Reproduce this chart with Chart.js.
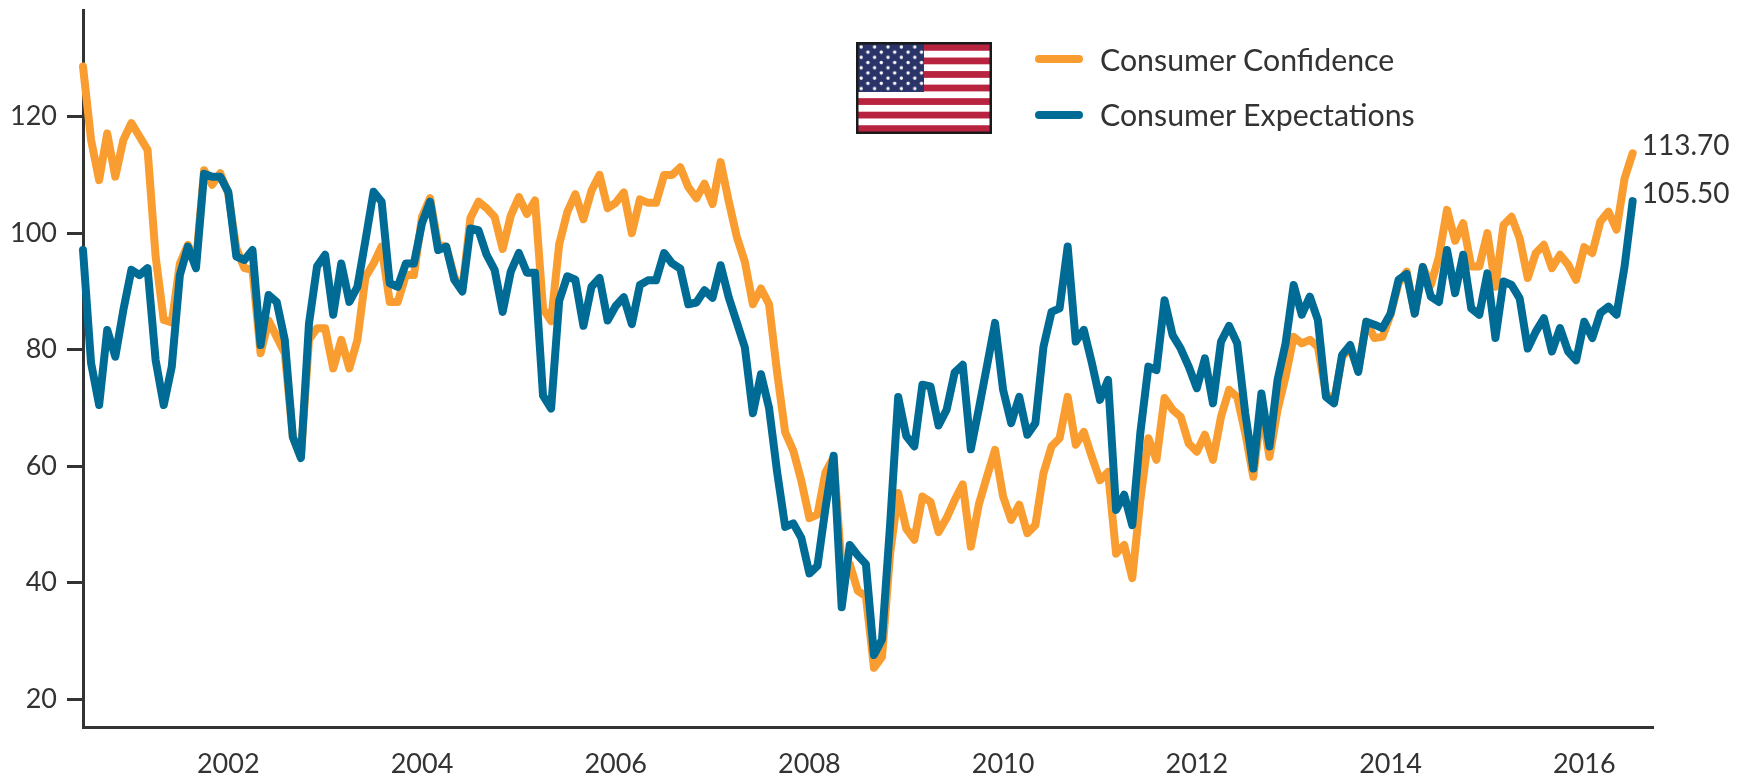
<!DOCTYPE html>
<html>
<head>
<meta charset="utf-8">
<title>Consumer Confidence</title>
<script src="https://cdn.jsdelivr.net/npm/chart.js@4"></script>
<style>
  html, body { margin: 0; padding: 0; background: #fff; }
  #wrap { position: relative; width: 1754px; height: 776px; overflow: hidden; font-family: Lato, sans-serif; color: #333; }
  #flag { position: absolute; left: 856px; top: 42px; }
  .key { position: absolute; left: 1035px; width: 48px; height: 8px; border-radius: 4px; }
  .keytext { position: absolute; left: 1100px; font-size: 30.3px; line-height: 36px; white-space: nowrap; }
</style>
</head>
<body>
<div id="wrap">
  <canvas id="myChart" width="1754" height="776"></canvas>
  <svg id="flag" width="136" height="92" viewBox="0 0 136 92">
    <defs>
      <pattern id="stars" width="13.4" height="10.4" patternUnits="userSpaceOnUse" x="3" y="3">
        <circle cx="2.2" cy="2" r="1.7" fill="#fff"/>
        <circle cx="8.9" cy="7.2" r="1.7" fill="#fff"/>
      </pattern>
    </defs>
    <rect width="136" height="92" fill="#fff"/>
    <g id="stripes" fill="#b8243f"></g>
    <rect x="2" y="2" width="66" height="48" fill="#2b3468"/>
    <rect x="2" y="2" width="66" height="48" fill="url(#stars)"/>
    <rect x="1.25" y="1.25" width="133.5" height="89.5" fill="none" stroke="#1a1a1a" stroke-width="2.5"/>
  </svg>
  <div class="key" style="top:55px;background:#f99d31"></div>
  <div class="keytext" style="top:41px">Consumer Confidence</div>
  <div class="key" style="top:111px;background:#006c96"></div>
  <div class="keytext" style="top:96px">Consumer Expectations</div>
</div>
<script>
// valeurs mensuelles, de juillet 2000 à juillet 2016
const consumerConfidence = [
  128.6, 116, 109.1, 117.1, 109.7, 116, 118.9, 116.6, 114.3, 96, 85.1, 84.7,
  94.8, 98, 95, 110.8, 108.3, 110.3, 106.8, 97.4, 94, 93.7, 79.4, 85,
  82.2, 79.4, 65, 61.6, 81.7, 83.7, 83.7, 76.8, 81.7, 76.8, 81.7, 92.5,
  94.8, 97.7, 88.2, 88.2, 92.8, 92.8, 102.8, 106, 98, 97.7, 92.5, 90.3,
  102.6, 105.4, 104.3, 102.8, 97.3, 103, 106.2, 103.3, 105.6, 87, 84.9, 98.1,
  103.6, 106.7, 102.4, 107.3, 110, 104.3, 105.2, 107, 100, 105.8, 105.2, 105.2,
  110, 110, 111.3, 107.9, 106, 108.5, 105, 112.2, 105.5, 99.4, 95.1, 87.8,
  90.5, 87.8, 76.1, 65.8, 62.7, 57.5, 51.1, 51.7, 59, 61.5, 42.5, 43.2,
  38.6, 37.7, 25.4, 27.3, 45, 55.4, 49.3, 47.4, 54.8, 53.9, 48.7, 51.1,
  54.2, 56.9, 46.2, 53.5, 58.2, 62.8, 54.8, 50.8, 53.4, 48.5, 49.9, 58.8,
  63.4, 64.8, 71.9, 63.7, 65.9, 61.6, 57.6, 59, 45, 46.5, 40.8, 54.2,
  64.8, 61.1, 71.7, 69.7, 68.5, 63.9, 62.5, 65.4, 61.1, 68.5, 73.1, 71.9,
  65.7, 58.2, 70, 61.6, 69.7, 75.4, 82.2, 81.1, 81.7, 80.5, 72.5, 71.1,
  78.8, 80.2, 76.5, 84.8, 82, 82.2, 86, 91.4, 93.4, 86.2, 94.2, 91.1,
  96, 104, 98.7, 101.7, 94.3, 94.3, 100, 90.8, 101.4, 102.8, 99.1, 92.3,
  96.6, 98, 94, 96.3, 94.6, 92, 97.6, 96.6, 102, 103.7, 100.6, 109.4,
  113.7
];
const consumerExpectations = [
  97.1, 77.7, 70.5, 83.4, 78.8, 86.8, 93.7, 92.8, 94, 78.2, 70.5, 77.1,
  92.8, 97.7, 94, 110.2, 109.7, 109.7, 107.1, 96, 95.4, 97.1, 80.8, 89.4,
  88.2, 81.7, 65, 61.4, 84.5, 94.3, 96.3, 86, 94.8, 88.2, 90.8, 98.8,
  107.1, 105.4, 91.4, 90.8, 94.8, 94.8, 101.7, 105.4, 97.1, 97.7, 92, 90,
  100.8, 100.5, 96.3, 93.7, 86.5, 93.4, 96.6, 93.2, 93.2, 72.1, 69.9, 88.4,
  92.6, 92, 84.1, 90.8, 92.3, 85, 87.5, 89, 84.4, 91.1, 91.9, 91.9,
  96.6, 94.8, 93.9, 87.8, 88.1, 90.2, 88.9, 94.5, 89, 84.7, 80.4, 69.1,
  75.8, 70, 59, 49.6, 50.2, 47.7, 41.6, 42.9, 52.9, 61.8, 35.8, 46.5,
  44.7, 43.2, 27.6, 30.3, 50, 71.9, 65.2, 63.4, 74, 73.7, 67, 69.7,
  76.1, 77.4, 62.9, 69.9, 77.2, 84.6, 73.1, 67.4, 71.9, 65.4, 67.4, 80.5,
  86.5, 87.1, 97.7, 81.4, 83.4, 77.7, 71.4, 74.8, 52.5, 55.1, 49.9, 65.7,
  77.1, 76.5, 88.5, 82.5, 80.2, 77.1, 73.4, 78.5, 70.8, 81.4, 84.1, 81.1,
  69.1, 59.6, 72.5, 63.4, 74.8, 81.1, 91.1, 86, 89.1, 85.1, 71.9, 70.8,
  79.1, 80.8, 76.2, 84.8, 84.3, 83.7, 86.2, 92, 93, 86.2, 94.2, 89.1,
  88.2, 97.1, 89.7, 96.3, 87.1, 86, 93.1, 82, 91.7, 91.1, 88.8, 80.2,
  83.1, 85.4, 79.7, 83.7, 79.7, 78.2, 84.8, 82, 86.3, 87.4, 86, 94.3,
  105.5
];
const endLabels = ['113.70', '105.50'];
const startYear = 2000.5;

// les 13 bandes du drapeau
const stripes = document.getElementById('stripes');
for (let i = 0; i < 7; i++) {
  const r = document.createElementNS('http://www.w3.org/2000/svg', 'rect');
  r.setAttribute('x', 0);
  r.setAttribute('y', 2 + i * 2 * 6.77);
  r.setAttribute('width', 136);
  r.setAttribute('height', 6.77);
  stripes.appendChild(r);
}

const toPoints = values => values.map((v, i) => ({ x: startYear + i / 12, y: v }));

// étiquettes de fin de courbe
const endLabelPlugin = {
  id: 'endLabels',
  afterDatasetsDraw(chart) {
    const ctx = chart.ctx;
    ctx.save();
    ctx.font = '28px Lato';
    ctx.fillStyle = '#333';
    ctx.textBaseline = 'middle';
    chart.data.datasets.forEach((ds, i) => {
      const pts = chart.getDatasetMeta(i).data;
      const last = pts[pts.length - 1];
      ctx.fillText(endLabels[i], last.x + 9, last.y - 7);
    });
    ctx.restore();
  }
};

Chart.defaults.font.family = 'Lato';
const ctx = document.getElementById('myChart').getContext('2d');
const myChart = new Chart(ctx, {
  type: 'line',
  data: {
    datasets: [{
      label: 'Consumer Confidence',
      data: toPoints(consumerConfidence),
      borderColor: '#f99d31',
      order: 2
    }, {
      label: 'Consumer Expectations',
      data: toPoints(consumerExpectations),
      borderColor: '#006c96',
      order: 1
    }]
  },
  options: {
    responsive: false,
    animation: false,
    layout: { padding: { top: 10, right: 101, left: 0, bottom: 0 } },
    elements: {
      point: { radius: 0 },
      line: { borderWidth: 8, tension: 0, borderJoinStyle: 'round', borderCapStyle: 'round' }
    },
    datasets: { line: { clip: false } },
    plugins: { legend: { display: false }, tooltip: { enabled: false } },
    scales: {
      x: {
        type: 'linear',
        min: startYear,
        max: 2016.71,
        afterFit: s => { s.height = 49; s.paddingLeft = 0; s.paddingRight = 0; },
        border: { color: '#333', width: 3 },
        grid: { display: false },
        ticks: {
          stepSize: 2,
          includeBounds: false,
          maxRotation: 0,
          autoSkip: false,
          padding: 13,
          color: '#333',
          font: { size: 27 },
          callback: v => String(v)
        }
      },
      y: {
        min: 15.25,
        max: 138.3,
        // pas de marge automatique en haut pour l'étiquette de graduation
        afterFit: s => { s.width = 83; s.paddingTop = 0; s.paddingBottom = 0; },
        border: { color: '#333', width: 3 },
        grid: { drawOnChartArea: false, drawTicks: true, tickLength: 16, tickColor: '#333', tickWidth: 3 },
        ticks: {
          stepSize: 20,
          includeBounds: false,
          padding: 10,
          color: '#333',
          font: { size: 27 }
        }
      }
    }
  },
  plugins: [endLabelPlugin]
});
</script>
</body>
</html>
